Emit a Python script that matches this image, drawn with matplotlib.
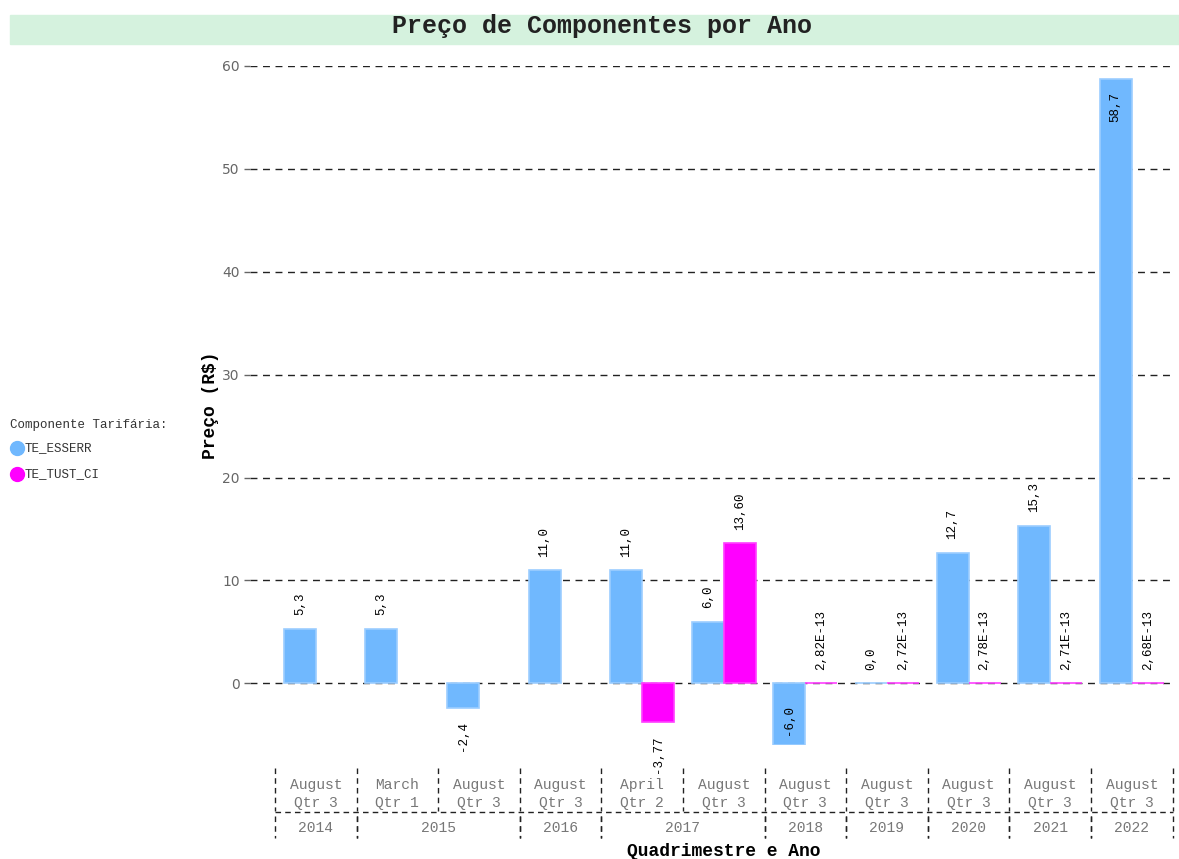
import numpy as np
import matplotlib
matplotlib.use("Agg")
import matplotlib.pyplot as plt
from matplotlib.patches import Rectangle
from matplotlib.lines import Line2D
import matplotlib.transforms as mtransforms

# data
meses = ["August", "March", "August", "August", "April", "August",
         "August", "August", "August", "August", "August"]
quadrimestres = ["Qtr 3", "Qtr 1", "Qtr 3", "Qtr 3", "Qtr 2", "Qtr 3",
                 "Qtr 3", "Qtr 3", "Qtr 3", "Qtr 3", "Qtr 3"]
anos = ["2014", "2015", "2015", "2016", "2017", "2017",
        "2018", "2019", "2020", "2021", "2022"]
te_esserr = [5.3, 5.3, -2.4, 11.0, 11.0, 6.0, -6.0, 0.0, 12.7, 15.3, 58.7]
te_tust_ci = [np.nan, np.nan, np.nan, np.nan, -3.77, 13.60,
              2.82e-13, 2.72e-13, 2.78e-13, 2.71e-13, 2.68e-13]

azul = "#70b8fe"
magenta = "#ff00ff"
mono = "Liberation Mono"

W, H = 1179, 859
fig = plt.figure(figsize=(W / 100, H / 100), dpi=100)

def fx(px):
    return px / W

def fy(py):
    return 1 - py / H

# title band
fig.patches.append(Rectangle((fx(10), fy(44)), fx(1169), 29 / H,
                             transform=fig.transFigure, color="#d5f2de", zorder=0))
fig.text(fx(602), fy(26), "Preço de Componentes por Ano", family=mono,
         weight="bold", fontsize=18, ha="center", va="center", color="#222222")

ax = fig.add_axes([fx(250), fy(745), fx(925), (745 - 66) / H])
for s in ax.spines.values():
    s.set_visible(False)

n = len(meses)
x = np.arange(n)
bw = 0.392
ax.bar(x - bw / 2, te_esserr, bw, color=azul, edgecolor="#9ccdff", linewidth=1.2, zorder=2)
ax.bar(x + bw / 2, te_tust_ci, bw, color=magenta, edgecolor="#ff40ff", linewidth=1.2, zorder=2)

ax.set_xlim(-0.806, 10.53)
ax.set_ylim(-6.0, 60)
ax.set_yticks(range(0, 61, 10))
ax.set_xticks([])
ax.tick_params(axis="y", colors="#666666", labelsize=10, length=4, width=1)
ax.yaxis.grid(True, color="#222222", linestyle=(0, (5, 4)), linewidth=1)
ax.set_axisbelow(True)

ax.set_ylabel("Preço (R$)", family=mono, weight="bold", fontsize=13, labelpad=2)


def fmt(v, casas):
    if v != 0 and abs(v) < 1e-6:
        return f"{v:.2E}".replace(".", ",")
    return f"{v:.{casas}f}".replace(".", ",")


def rotulos(xs, vals, casas):
    for xi, v in zip(xs, vals):
        if np.isnan(v):
            continue
        txt = fmt(v, casas)
        kw = dict(rotation=90, ha="center", family=mono, fontsize=9, zorder=3)
        if v > 55:
            ax.text(xi, v - 1.2, txt, va="top", **kw)
        elif v < -5:
            ax.text(xi, v + 1.0, txt, va="bottom", **kw)
        elif v < 0:
            ax.text(xi, v - 1.3, txt, va="top", **kw)
        else:
            ax.text(xi, v + 1.3, txt, va="bottom", **kw)


rotulos(x - bw / 2, te_esserr, 1)
rotulos(x + bw / 2, te_tust_ci, 2)

# hierarchical x axis: month/quarter row and year row
trans = mtransforms.blended_transform_factory(ax.transData, fig.transFigure)
dash = (0, (4, 3))
for i in range(n):
    ax.text(i, fy(785), meses[i], transform=trans, ha="center", va="center",
            family=mono, fontsize=10.5, color="#777777")
    ax.text(i, fy(803), quadrimestres[i], transform=trans, ha="center", va="center",
            family=mono, fontsize=10.5, color="#777777")

for b in np.arange(n + 1) - 0.5:
    fig.add_artist(Line2D([b, b], [fy(768), fy(811)], transform=trans,
                          color="#222222", linestyle=dash, linewidth=1))
fig.add_artist(Line2D([-0.5, n - 0.5], [fy(812), fy(812)], transform=trans,
                      color="#222222", linestyle=dash, linewidth=1))

# year groups
grupos = []
ini = 0
for i in range(1, n + 1):
    if i == n or anos[i] != anos[ini]:
        grupos.append((ini, i - 1, anos[ini]))
        ini = i
for a, b, ano in grupos:
    ax.text((a + b) / 2, fy(828), ano, transform=trans, ha="center", va="center",
            family=mono, fontsize=10.5, color="#777777")
    for s in (a - 0.5, b + 0.5):
        fig.add_artist(Line2D([s, s], [fy(816), fy(838)], transform=trans,
                              color="#222222", linestyle=dash, linewidth=1))

ax.text((n - 1) / 2, fy(851), "Quadrimestre e Ano", transform=trans, ha="center",
        va="center", family=mono, weight="bold", fontsize=13)

# legend
fig.text(fx(10), fy(425), "Componente Tarifária:", family=mono, fontsize=9,
         color="#333333", va="center")
for py, cor, nome in [(448, azul, "TE_ESSERR"), (474, magenta, "TE_TUST_CI")]:
    fig.add_artist(Line2D([fx(17)], [fy(py)], marker="o", markersize=10,
                          color=cor, transform=fig.transFigure))
    fig.text(fx(25), fy(py), nome, family=mono, fontsize=9, color="#333333", va="center")

fig.savefig("out.png", dpi=100)
